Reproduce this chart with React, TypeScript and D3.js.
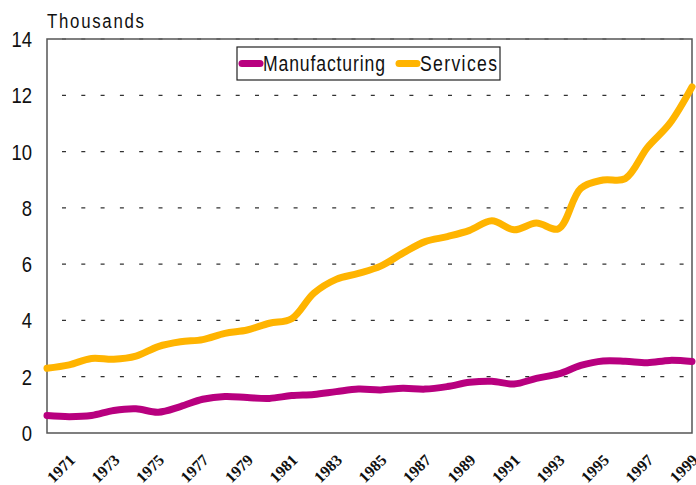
import React from "react";
import * as d3 from "d3";

const years = d3.range(1970, 2000);
const manufacturing = [0.62, 0.58, 0.62, 0.8, 0.86, 0.74, 0.94, 1.2, 1.3, 1.26, 1.23, 1.33, 1.37, 1.47, 1.56, 1.53, 1.59, 1.56, 1.65, 1.8, 1.84, 1.74, 1.94, 2.1, 2.4, 2.56, 2.55, 2.5, 2.58, 2.54];
const services = [2.3, 2.42, 2.65, 2.62, 2.73, 3.07, 3.24, 3.32, 3.54, 3.66, 3.9, 4.06, 4.97, 5.46, 5.67, 5.93, 6.39, 6.8, 6.98, 7.2, 7.54, 7.22, 7.46, 7.26, 8.69, 8.99, 9.04, 10.15, 11.0, 12.3];
const yTicks = [0, 2, 4, 6, 8, 10, 12, 14];
const xLabels = d3.range(1971, 2000, 2);
const seriesNames = ["Manufacturing", "Services"];
const colors = ["#b8007f", "#ffb400"];

const W = 696, H = 485;
const L = 47, R = 692, T = 39, B = 433;
const sans = "'Liberation Sans', Arial, sans-serif";
const SX = 0.8;

function NarrowText(props: { x: number; y: number; width: number; size: number; children: string }) {
  return (
    <text transform={`translate(${props.x},${props.y}) scale(${SX},1)`} fontFamily={sans} fontSize={props.size}
      textLength={props.width / SX} lengthAdjust="spacing" fill="#111">{props.children}</text>
  );
}

export default function App() {
  const x = d3.scaleLinear().domain([1970, 1999]).range([L, R]);
  const y = d3.scaleLinear().domain([0, 14]).range([B, T]);
  const line = d3.line<number>()
    .x((_, i) => x(years[i]))
    .y((d) => y(d))
    .curve(d3.curveCatmullRom.alpha(0.5));
  const data = [manufacturing, services];
  return (
    <svg width={W} height={H} style={{ position: "absolute", left: 0, top: 0, background: "#fff" }}>
      <rect x={0} y={0} width={W} height={H} fill="#fff" />
      {yTicks.filter((t) => t > 0).map((t) => (
        <line key={t} x1={L} x2={R} y1={y(t)} y2={y(t)} stroke="#333" strokeWidth={1.2} strokeDasharray="4 15.3" strokeDashoffset={-15} />
      ))}
      <rect x={L} y={T} width={R - L} height={B - T} fill="none" stroke="#555" strokeWidth={1.5} />
      {yTicks.map((t) => (
        <text key={t} transform={`translate(32,${y(t)}) scale(0.84,1)`} dy="0.36em" textAnchor="end" fontFamily={sans} fontSize={22} fill="#111">{t}</text>
      ))}
      <NarrowText x={47} y={28} width={97} size={21}>Thousands</NarrowText>
      {data.map((d, i) => (
        <path key={i} d={line(d) || ""} fill="none" stroke={colors[i]} strokeWidth={7} strokeLinecap="round" strokeLinejoin="round" />
      ))}
      {xLabels.map((yr) => (
        <text key={yr} transform={`translate(${x(yr) + 7},${461}) rotate(-45)`} textAnchor="end" fontFamily="'Liberation Serif', 'Times New Roman', serif" fontWeight="bold" fontSize={16} fill="#111">{yr}</text>
      ))}
      <g>
        <rect x={237} y={47} width={263} height={33} fill="#fff" stroke="#222" strokeWidth={1.2} />
        <line x1={242} x2={260} y1={63.5} y2={63.5} stroke={colors[0]} strokeWidth={7} strokeLinecap="round" />
        <NarrowText x={263} y={71} width={122} size={22}>{seriesNames[0]}</NarrowText>
        <line x1={399} x2={417} y1={63.5} y2={63.5} stroke={colors[1]} strokeWidth={7} strokeLinecap="round" />
        <NarrowText x={420} y={71} width={77} size={22}>{seriesNames[1]}</NarrowText>
      </g>
    </svg>
  );
}
